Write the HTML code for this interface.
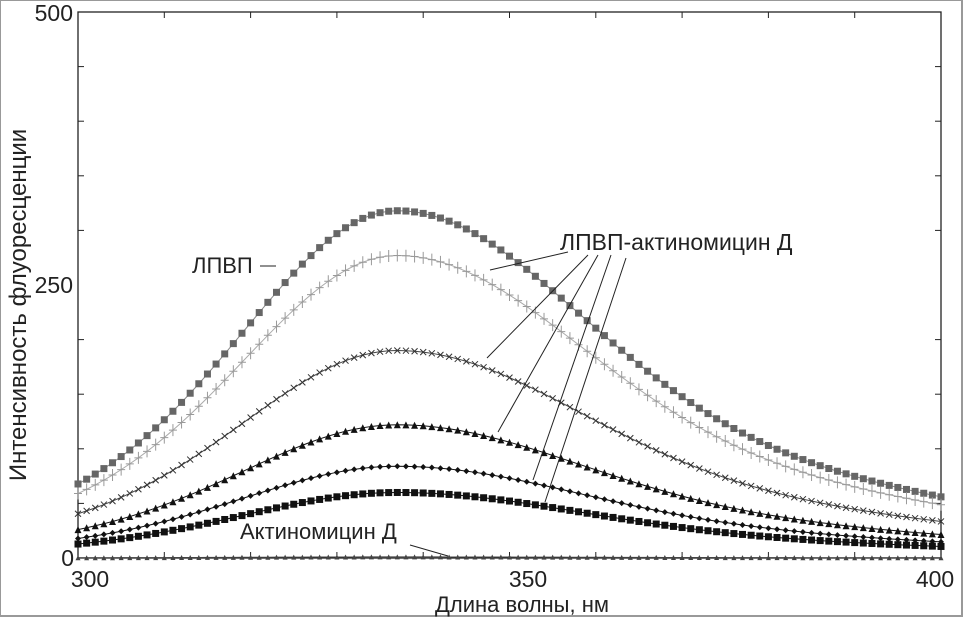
<!DOCTYPE html>
<html><head><meta charset="utf-8"><style>
body{margin:0;background:#fff;}
svg text{font-family:"Liberation Sans",sans-serif;}
</style></head><body>
<svg id="s" width="964" height="621" xmlns="http://www.w3.org/2000/svg">
<rect x="0" y="0" width="962" height="616" fill="#fff" stroke="#999" stroke-width="2"/>
<rect x="78" y="12" width="863" height="546" fill="none" stroke="#222" stroke-width="1.3"/>
<g id="ticks" stroke="#222" stroke-width="1"></g>
<g id="data"></g>
<g font-size="23" fill="#222">
<text x="73" y="21" text-anchor="end">500</text>
<text x="73" y="293" text-anchor="end">250</text>
<text x="74" y="566" text-anchor="end">0</text>
<text x="90" y="587" text-anchor="middle">300</text>
<text x="528" y="587" text-anchor="middle">350</text>
<text x="935" y="587" text-anchor="middle">400</text>
<text x="522" y="612" text-anchor="middle" font-size="22">Длина волны, нм</text>
<text transform="translate(26,305) rotate(-90)" text-anchor="middle" font-size="24">Интенсивность флуоресценции</text>
<text x="192" y="273" font-size="22">ЛПВП</text>
<text x="560" y="250">ЛПВП-актиномицин Д</text>
<text x="240" y="539" font-size="22">Актиномицин Д</text>
</g>
<g stroke="#222" stroke-width="1">
<line x1="260" y1="266" x2="276" y2="266"/>
<line x1="568" y1="252" x2="490" y2="270"/>
<line x1="588" y1="255" x2="487" y2="358"/>
<line x1="598" y1="255" x2="498" y2="432"/>
<line x1="611" y1="255" x2="533" y2="480"/>
<line x1="626" y1="258" x2="545" y2="502"/>
<line x1="410" y1="545" x2="448" y2="556"/>
</g>
</svg>
<script>
const X=v=>78+(v-300)*8.63, Y=v=>558-v*1.092;
let t='';
for(let i=1;i<10;i++){if(i==5)continue;const y=Y(i*50);t+=`<line x1="78" y1="${y}" x2="84" y2="${y}"/><line x1="935" y1="${y}" x2="941" y2="${y}"/>`;}
for(let i=1;i<10;i++){const x=X(300+i*10);t+=`<line x1="${x}" y1="12" x2="${x}" y2="18"/><line x1="${x}" y1="552" x2="${x}" y2="558"/>`;}
document.getElementById('ticks').innerHTML=t;
function shape(x){const d=x-337;
 if(d<0) return 0.75*Math.exp(-d*d/578)+0.25*Math.exp(-d*d/2450);
 return 0.62*Math.exp(-d*d/800)+0.38*Math.exp(-d*d/5000);}
const S=[
 {A:318,m:'sq',c:'#666',s:7,line:'#888'},
 {A:277,m:'plus',c:'#999',s:8,line:'#aaa'},
 {A:190,m:'x',c:'#333',s:6,line:'#444'},
 {A:122,m:'tri',c:'#111',s:7,line:'#111'},
 {A:84,m:'dia',c:'#111',s:6,line:'#111'},
 {A:60,m:'sq',c:'#111',s:7,line:'#111'},
 {A:1,m:'tri',c:'#444',s:5,line:'#444'}];
let h='';
for(const s of S){
 let pts=[];
 for(let v=300;v<=400;v++) pts.push([X(v),Y(s.A*shape(v))]);
 h+=`<polyline fill="none" stroke="${s.line}" stroke-width="1" points="${pts.map(p=>p.join(',')).join(' ')}"/>`;
 const r=s.s/2;
 for(const [x,y] of pts){
  if(s.m=='sq') h+=`<rect x="${x-r}" y="${y-r}" width="${s.s}" height="${s.s}" fill="${s.c}"/>`;
  else if(s.m=='plus') h+=`<path d="M${x} ${y-r-2}V${y+r+2}M${x-r} ${y}H${x+r}" stroke="${s.c}" stroke-width="1"/>`;
  else if(s.m=='x') h+=`<path d="M${x-r} ${y-r}L${x+r} ${y+r}M${x-r} ${y+r}L${x+r} ${y-r}" stroke="${s.c}" stroke-width="1"/>`;
  else if(s.m=='tri') h+=`<path d="M${x} ${y-r}L${x+r} ${y+r}L${x-r} ${y+r}Z" fill="${s.c}"/>`;
  else if(s.m=='dia') h+=`<path d="M${x} ${y-r}L${x+r} ${y}L${x} ${y+r}L${x-r} ${y}Z" fill="${s.c}"/>`;
 }
}
document.getElementById('data').innerHTML=h;
</script>
</body></html>
